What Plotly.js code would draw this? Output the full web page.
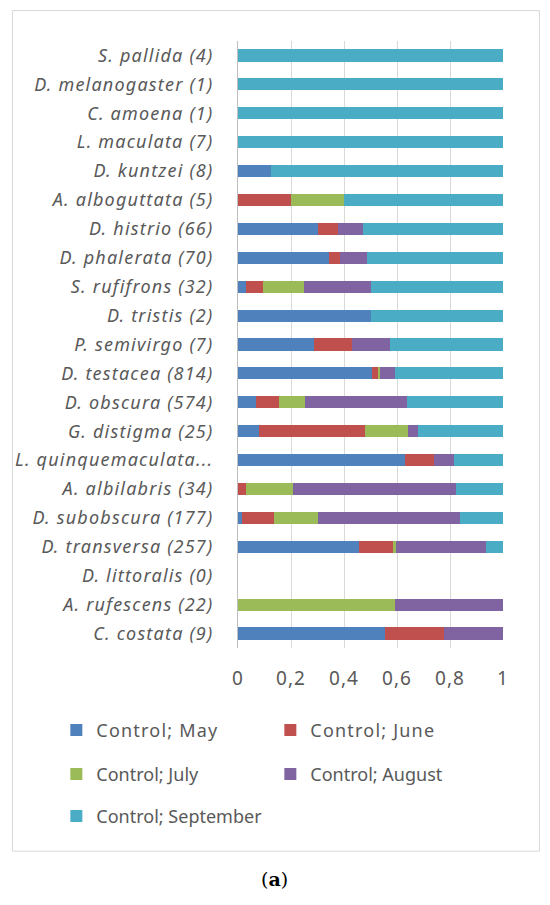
<!DOCTYPE html>
<html>
<head>
<meta charset="utf-8">
<script src="https://cdn.plot.ly/plotly-3.0.1.min.js"></script>
<style>
html,body{margin:0;padding:0;background:#fff;}
#chart{width:550px;height:905px;}
#chart .ytick text{letter-spacing:1.2px;}
#chart .xtick text{letter-spacing:1px;}
#chart .legendtext{letter-spacing:1.2px;}
</style>
</head>
<body>
<div id="chart"></div>
<script>
var categories = [
  "S. pallida (4)", "D. melanogaster (1)", "C. amoena (1)", "L. maculata (7)",
  "D. kuntzei (8)", "A. alboguttata (5)", "D. histrio (66)", "D. phalerata (70)",
  "S. rufifrons (32)", "D. tristis (2)", "P. semivirgo (7)", "D. testacea (814)",
  "D. obscura (574)", "G. distigma (25)", "L. quinquemaculata...", "A. albilabris (34)",
  "D. subobscura (177)", "D. transversa (257)", "D. littoralis (0)", "A. rufescens (22)",
  "C. costata (9)"
];
var seriesNames = ["Control; May", "Control; June", "Control; July", "Control; August", "Control; September"];
var may    = [0,0,0,0,0.124,0,0.303,0.343,0.031,0.5,0.286,0.504,0.068,0.08,0.629,0,0.014,0.457,0,0,0.556];
var june   = [0,0,0,0,0,0.2,0.076,0.043,0.063,0,0.143,0.025,0.086,0.40,0.11,0.029,0.122,0.129,0,0,0.222];
var july   = [0,0,0,0,0,0.2,0,0,0.156,0,0,0.007,0.099,0.16,0,0.177,0.164,0.009,0,0.591,0];
var august = [0,0,0,0,0,0,0.091,0.1,0.25,0,0.143,0.055,0.386,0.04,0.075,0.618,0.537,0.34,0,0.409,0.222];
var september = [1,1,1,1,0.876,0.6,0.53,0.514,0.5,0.5,0.428,0.409,0.361,0.32,0.186,0.176,0.163,0.065,0,0,0];
var xTickVals = [0, 0.2, 0.4, 0.6, 0.8, 1];
var xTickText = ["0", "0,2", "0,4", "0,6", "0,8", "1"];

var colors = ["#4F81BD", "#C0504D", "#9BBB59", "#8064A2", "#4BACC6"];
var seriesValues = [may, june, july, august, september];
var legendIds = ["legend", "legend", "legend2", "legend2", "legend3"];

var traces = seriesValues.map(function (vals, i) {
  return {
    type: "bar",
    orientation: "h",
    name: seriesNames[i],
    x: vals,
    y: categories,
    marker: {color: colors[i], line: {width: 0}},
    legend: legendIds[i],
    hoverinfo: "x+y+name"
  };
});

var gray = "#595959";
var L = 238, R = 46.5, T = 40.5, B = 256.5;
var W = 550, H = 905;
var pw = W - L - R, ph = H - T - B;
function px2x(px) { return (px - L) / pw; }
function py2y(py) { return (H - B - py) / ph; }

var legendCommon = {
  orientation: "h",
  xanchor: "left",
  yanchor: "middle",
  traceorder: "normal",
  entrywidth: 169,
  entrywidthmode: "pixels",
  font: {family: "Noto Sans, sans-serif", size: 18, color: gray},
  bgcolor: "rgba(0,0,0,0)"
};

var layout = {
  width: W,
  height: H,
  margin: {l: L, r: R, t: T, b: B, pad: 0},
  paper_bgcolor: "#ffffff",
  plot_bgcolor: "#ffffff",
  barmode: "stack",
  bargap: 0.58,
  showlegend: true,
  font: {family: "Noto Sans, sans-serif", color: gray},
  xaxis: {
    range: [0, 1],
    tickvals: xTickVals,
    ticktext: xTickText,
    showgrid: true,
    gridcolor: "#d9d9d9",
    gridwidth: 1,
    zeroline: false,
    showline: false,
    ticks: "",
    ticklabelstandoff: 17,
    tickfont: {family: "Noto Sans, sans-serif", size: 19, color: gray},
    fixedrange: true
  },
  yaxis: {
    type: "category",
    autorange: "reversed",
    showgrid: false,
    zeroline: false,
    showline: true,
    linecolor: "#bfbfbf",
    linewidth: 1,
    ticks: "",
    ticklabelstandoff: 20,
    tickfont: {family: "Noto Sans, sans-serif", size: 18, color: gray, style: "italic"},
    fixedrange: true
  },
  legend: Object.assign({}, legendCommon, {x: px2x(56), y: py2y(731)}),
  legend2: Object.assign({}, legendCommon, {x: px2x(56), y: py2y(775)}),
  legend3: Object.assign({}, legendCommon, {x: px2x(56), y: py2y(817)}),
  shapes: [{
    type: "rect", xref: "paper", yref: "paper",
    x0: px2x(12), x1: px2x(540), y0: py2y(852), y1: py2y(10),
    line: {color: "#d9d9d9", width: 1},
    fillcolor: "rgba(0,0,0,0)",
    layer: "below"
  }],
  annotations: [{
    xref: "paper", yref: "paper",
    x: px2x(275), y: py2y(880),
    xanchor: "center", yanchor: "middle",
    text: "(<b>a</b>)",
    showarrow: false,
    font: {family: "DejaVu Serif, serif", size: 19, color: "#000000"}
  }]
};

Plotly.newPlot("chart", traces, layout, {displayModeBar: false, staticPlot: true});
</script>
</body>
</html>
